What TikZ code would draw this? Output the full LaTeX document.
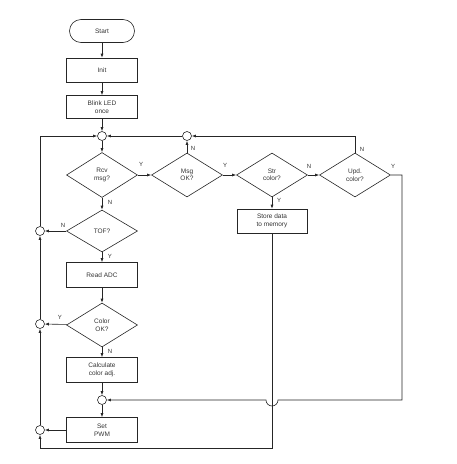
\documentclass[tikz,border=0pt]{standalone}
\usepackage{fontspec}
\setmainfont{Liberation Sans}
\usetikzlibrary{shapes.geometric,arrows.meta}
\tikzset{
    every node/.style={font=\fontsize{6.5}{7.5}\selectfont, align=center,
    	text=black!80, inner sep=1pt}
}
\tikzset{
    box/.style={draw, rectangle, minimum width=71pt, minimum height=24pt},
    dec/.style={draw, diamond, minimum width=71pt, minimum height=44pt, inner sep=0pt},
    term/.style={draw, rectangle, rounded corners=11.5pt, minimum width=65pt,
    	minimum height=23pt},
    jn/.style={draw, circle, fill=white, minimum size=9pt, inner sep=0pt},
    lbl/.style={font=\fontsize{6}{7}\selectfont, inner sep=0pt}
}
\tikzset{
    every edge/.append style={-{Latex[length=4pt,width=3pt]}}
}

\begin{document}
\begin{tikzpicture}[x=1pt,y=-1pt,line width=0.6pt,draw=black!85,
	>={Latex[length=4pt,width=3pt]}]
	\useasboundingbox (0,0) rectangle (456,464);
	\node (start) [term] at (102,31) {Start};
	\node (init) [box] at (102,70) {Init};
	\node (blink) [box, minimum height=23pt] at (102,107) {Blink LED\\once};
	\node (j1) [jn] at (102,136) {};
	\node (j2) [jn] at (187,136) {};
	\node (rcv) [dec, minimum height=45pt] at (102,175) {Rcv\\msg?};
	\node (msg) [dec] at (187,175) {Msg\\OK?};
	\node (str) [dec] at (272,175) {Str\\color?};
	\node (upd) [dec] at (355,175) {Upd.\\color?};
	\node (store) [box, minimum width=70pt] at (272,221) {Store data\\to memory};
	\node (tof) [dec, minimum height=42pt] at (102,231) {TOF?};
	\node (j3) [jn] at (40,231) {};
	\node (adc) [box, minimum height=25pt] at (102,275) {Read ADC};
	\node (color) [dec] at (102,325) {Color\\OK?};
	\node (j5) [jn] at (40,324) {};
	\node (calc) [box, minimum height=25pt] at (102,370) {Calculate\\color adj.};
	\node (j4) [jn] at (102,400) {};
	\node (pwm) [box, minimum height=25pt] at (102,430) {Set\\PWM};
	\node (j6) [jn] at (40,430) {};
	\coordinate (c1) at (402,175);
	\coordinate (c2) at (402,400);
	\coordinate (c3) at (278,400);
	\coordinate (c4) at (266,400);
	\coordinate (c5) at (272,448);
	\coordinate (c6) at (40,448);

	% main column
	\draw (start) edge (init); \draw (init) edge (blink); \draw (blink) edge (j1);
	\draw (j1) edge (rcv); \draw (rcv) edge (tof); \draw (tof) edge (adc);
	\draw (adc) edge (color); \draw (color) edge (calc); \draw (calc) edge (j4);
	\draw (j4) edge (pwm);
	% message branch
	\draw (rcv) edge (msg); \draw (msg) edge (str); \draw (str) edge (upd);
	\draw (str) edge (store);
	\draw (msg) edge (j2); \draw (j2) edge (j1);
	\draw[->] (upd.north) |- (j2);
	\draw[->] (upd.east) -| (c2) -- (c3) arc[start angle=0, end angle=-180, radius=6pt]
		-- (j4);
	% left return line
	\draw (tof) edge (j3); \draw (color) edge (j5); \draw (pwm) edge (j6);
	\draw (j6) edge (j5); \draw (j5) edge (j3);
	\draw[->] (j3) |- (j1);
	\draw[->] (store) -- (c5) -- (c6) -- (j6);

	% labels
	\node [lbl] at (141,164) {Y}; \node [lbl] at (110,202) {N};
	\node [lbl] at (193,148) {N}; \node [lbl] at (225,165) {Y};
	\node [lbl] at (309,166) {N}; \node [lbl] at (279,200) {Y};
	\node [lbl] at (362,149) {N}; \node [lbl] at (393,166) {Y};
	\node [lbl] at (63,225) {N}; \node [lbl] at (110,256) {Y};
	\node [lbl] at (60,317) {Y}; \node [lbl] at (110,351) {N};
\end{tikzpicture}
\end{document}
